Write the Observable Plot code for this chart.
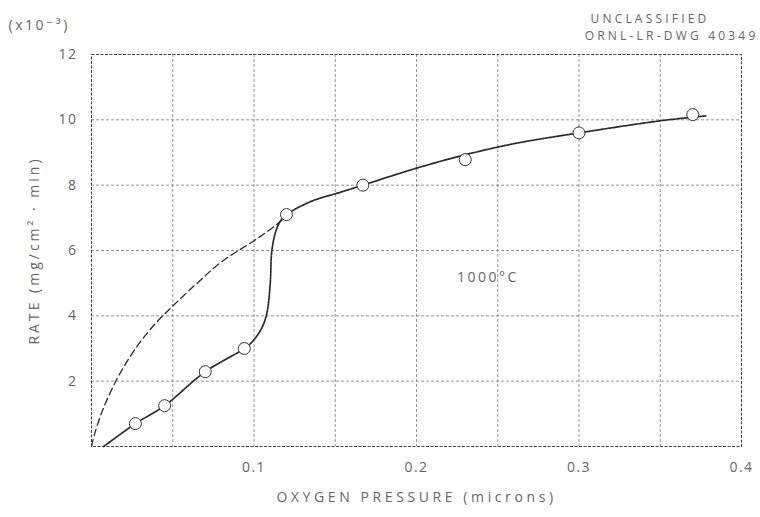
<!DOCTYPE html>
<html><head><meta charset="utf-8">
<script src="https://cdn.jsdelivr.net/npm/d3@7"></script>
<script src="https://cdn.jsdelivr.net/npm/@observablehq/plot@0.6"></script>
<style>
body{margin:0;background:#fff;}
#chart svg{font-family:"Open Sans","DejaVu Sans",sans-serif;letter-spacing:1.5px;}
#chart svg [aria-label="x-axis label"] text{letter-spacing:3.6px;font-size:14px;}
#chart svg [aria-label="y-axis label"] text{letter-spacing:3px;font-size:14px;}
</style></head><body><div id="chart"></div>
<script>
// measured points (oxygen pressure in microns, rate in 10^-3 mg/cm2·min)
const pointX = [0.027, 0.045, 0.070, 0.094, 0.120, 0.167, 0.230, 0.300, 0.370];
const pointY = [0.70, 1.25, 2.29, 3.00, 7.10, 8.00, 8.78, 9.60, 10.16];

// dashed curve (from origin up to the 0.12 point)
const dashX = [0, 0.002, 0.006, 0.012, 0.020, 0.030, 0.040, 0.050, 0.065, 0.080, 0.100, 0.112, 0.120];
const dashY = [0, 0.40, 1.00, 1.70, 2.45, 3.20, 3.80, 4.30, 5.00, 5.65, 6.30, 6.72, 7.05];

// dotted (solid) curve through the data
const lineX = [0.0075, 0.027, 0.045, 0.070, 0.094, 0.0997, 0.105, 0.108, 0.110, 0.111, 0.1135, 0.1165, 0.120, 0.135, 0.153, 0.167, 0.200, 0.230, 0.260, 0.300, 0.350, 0.370, 0.378];
const lineY = [0, 0.70, 1.25, 2.29, 3.00, 3.25, 3.65, 4.10, 5.00, 6.00, 6.60, 6.92, 7.10, 7.50, 7.78, 8.00, 8.52, 8.93, 9.27, 9.60, 9.97, 10.08, 10.12];

const xTicks = [0.1, 0.2, 0.3, 0.4];
const yTicks = [2, 4, 6, 8, 10, 12];
const xGrid = [0.05, 0.10, 0.15, 0.20, 0.25, 0.30, 0.35];
const yGrid = [2, 4, 6, 8, 10];

const points = pointX.map((x, i) => ({x, y: pointY[i]}));
const dashed = dashX.map((x, i) => ({x, y: dashY[i]}));
const curve = lineX.map((x, i) => ({x, y: lineY[i]}));

const ink = "#2a2a2a";
const textInk = "#666";

const chart = Plot.plot({
  width: 760,
  height: 517,
  marginLeft: 91,
  marginRight: 19,
  marginTop: 54,
  marginBottom: 71,
  style: {fontSize: "13px", color: textInk, background: "white"},
  x: {domain: [0, 0.4]},
  y: {domain: [0, 12]},
  marks: [
    Plot.ruleX(xGrid, {stroke: "#888", strokeDasharray: "3,2", strokeWidth: 0.9}),
    Plot.ruleY(yGrid, {stroke: "#888", strokeDasharray: "3,2", strokeWidth: 0.9}),
    Plot.frame({stroke: "#444", strokeDasharray: "3,1.5", strokeWidth: 1.1}),
    Plot.line(dashed, {x: "x", y: "y", curve: "catmull-rom", stroke: ink, strokeWidth: 1.3, strokeDasharray: "7,4"}),
    Plot.line(curve, {x: "x", y: "y", curve: "catmull-rom", stroke: ink, strokeWidth: 1.7, strokeDasharray: "2,1"}),
    Plot.dot(points, {x: "x", y: "y", r: 6, stroke: "#333", strokeWidth: 1, fill: "white"}),
    Plot.text(["1000°C"], {x: 0.244, y: 5.17, text: d => d, fontSize: 14, fill: textInk}),
    Plot.axisX({ticks: xTicks, tickSize: 0, tickPadding: 16, tickFormat: d => d.toFixed(1), fontSize: 14,
      label: "OXYGEN PRESSURE (microns)", labelAnchor: "center", labelArrow: "none", labelOffset: 55}),
    Plot.axisY({ticks: yTicks, tickSize: 0, tickPadding: 14, fontSize: 14,
      label: "RATE (mg/cm² · min)", labelAnchor: "center", labelArrow: "none", labelOffset: 62}),
    Plot.text(["(x10⁻³)"], {frameAnchor: "top-left", text: d => d, dx: -83, dy: -34, textAnchor: "start", fontSize: 14, fill: textInk}),
    Plot.text(["UNCLASSIFIED"], {frameAnchor: "top-right", text: d => d, dx: -32, dy: -40, textAnchor: "end", fontSize: 12, fill: textInk}),
    Plot.text(["ORNL-LR-DWG 40349"], {frameAnchor: "top-right", text: d => d, dx: 17, dy: -23, textAnchor: "end", fontSize: 12, fill: textInk})
  ]
});
document.getElementById("chart").appendChild(chart);
d3.select(chart).selectAll("text").filter(function() {
  const t = this.textContent;
  return t === "UNCLASSIFIED" || t === "ORNL-LR-DWG 40349";
}).style("letter-spacing", "3.2px");
d3.select(chart).selectAll("text").filter(function() {
  return this.textContent === "1000°C" || this.textContent === "(x10⁻³)";
}).style("letter-spacing", "2.5px");
</script>
</body></html>
